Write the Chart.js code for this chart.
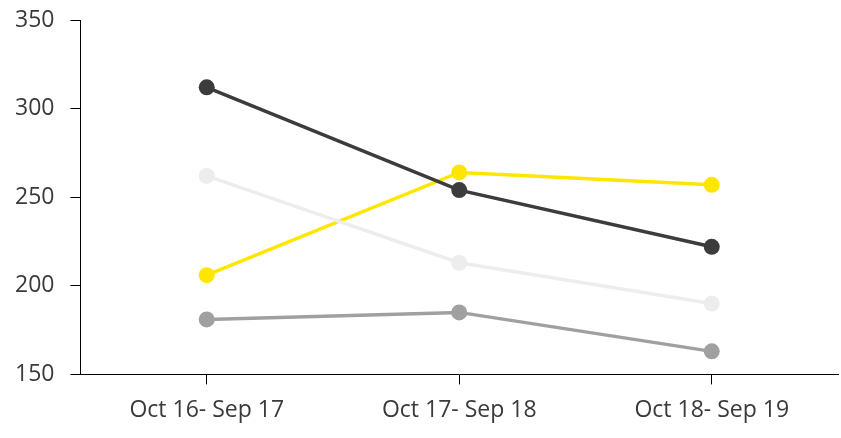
<!DOCTYPE html>
<html>
<head>
<meta charset="utf-8">
<script src="https://cdn.jsdelivr.net/npm/chart.js@4"></script>
<style>
  html, body { margin: 0; padding: 0; background: #fff; overflow: hidden; }
  #wrap { position: relative; width: 846px; height: 438px; }
</style>
</head>
<body>
<div id="wrap"><canvas id="chart"></canvas></div>
<script>
// categories and series
const periods = ['Oct 16- Sep 17', 'Oct 17- Sep 18', 'Oct 18- Sep 19'];
const darkSeries = [312, 254, 222];
const yellowSeries = [206, 264, 257];
const lightSeries = [262, 213, 190];
const greySeries = [181, 185, 163];
const yTicks = [150, 200, 250, 300, 350];

const textColor = '#3a3a3a';
const font = { family: "'Open Sans', Lato, sans-serif", size: 23 };

function line(data, color) {
    return {
        data: data,
        borderColor: color,
        backgroundColor: color,
        borderWidth: 3.5,
        pointRadius: 8,
        pointHoverRadius: 8,
        pointBorderWidth: 0,
        tension: 0
    };
}

new Chart(document.getElementById('chart').getContext('2d'), {
    type: 'line',
    data: {
        labels: periods,
        datasets: [
            line(lightSeries, '#ededed'),
            line(greySeries, '#a0a0a0'),
            line(darkSeries, '#3c3c3c'),
            line(yellowSeries, '#ffe600')
        ]
    },
    options: {
        responsive: true,
        maintainAspectRatio: false,
        animation: false,
        layout: { padding: { top: 20, right: 0, left: -1, bottom: 2 } },
        plugins: {
            legend: { display: false },
            tooltip: { enabled: false }
        },
        scales: {
            x: {
                offset: true,
                grid: { drawOnChartArea: false, drawTicks: true, tickLength: 10, color: '#000', offset: false },
                border: { color: '#000', width: 1 },
                ticks: { color: textColor, font: font, padding: 12 },
                afterFit: axis => { axis.paddingLeft = 0; axis.paddingRight = 0; }
            },
            y: {
                min: yTicks[0],
                max: yTicks[yTicks.length - 1],
                afterBuildTicks: axis => { axis.ticks = yTicks.map(v => ({ value: v })); },
                grid: { drawOnChartArea: false, drawTicks: true, tickLength: 10, color: '#000' },
                border: { color: '#000', width: 1 },
                ticks: { color: textColor, font: font, padding: 16 },
                afterFit: axis => { axis.paddingTop = 0; axis.paddingBottom = 0; }
            }
        }
    }
});
</script>
</body>
</html>
